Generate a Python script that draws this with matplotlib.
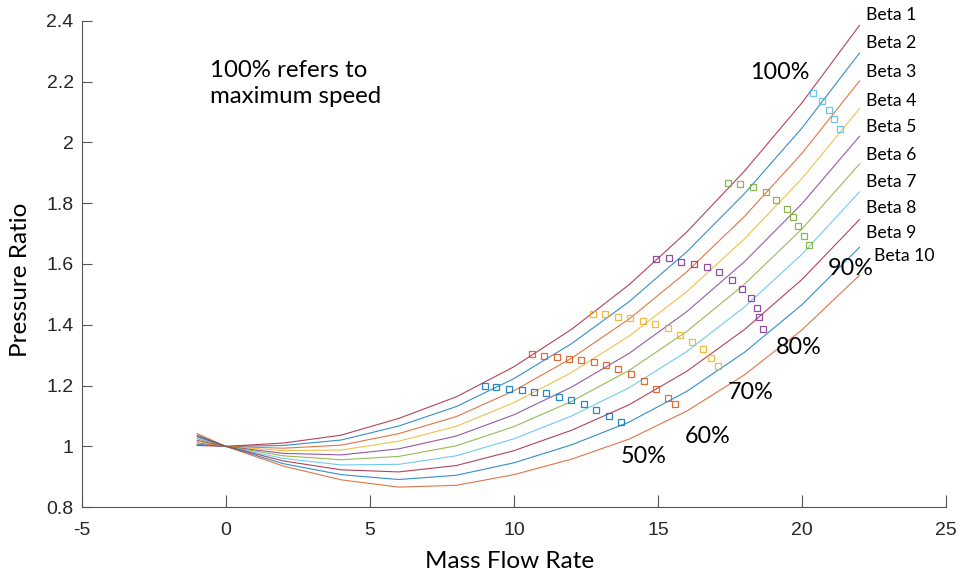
import matplotlib.pyplot as plt
import numpy as np

plt.rcParams['axes.unicode_minus'] = False

# mass flow points where the beta lines were sampled
flow = [-1, 0, 2, 4, 6, 8, 10, 12, 14, 16, 18, 20, 22]

beta1 = [1.003, 1.0, 1.011, 1.037, 1.092, 1.163, 1.262, 1.385, 1.532, 1.705, 1.905, 2.130, 2.385]
beta2 = [1.007, 1.0, 1.003, 1.021, 1.067, 1.131, 1.223, 1.338, 1.476, 1.640, 1.831, 2.047, 2.294]
beta3 = [1.012, 1.0, 0.994, 1.004, 1.042, 1.098, 1.183, 1.290, 1.419, 1.574, 1.756, 1.964, 2.202]
beta4 = [1.016, 1.0, 0.986, 0.988, 1.017, 1.066, 1.144, 1.243, 1.363, 1.509, 1.682, 1.881, 2.111]
beta5 = [1.020, 1.0, 0.977, 0.972, 0.992, 1.034, 1.104, 1.195, 1.306, 1.443, 1.607, 1.798, 2.020]
beta6 = [1.025, 1.0, 0.969, 0.956, 0.967, 1.002, 1.065, 1.148, 1.250, 1.378, 1.533, 1.715, 1.929]
beta7 = [1.029, 1.0, 0.960, 0.939, 0.941, 0.969, 1.025, 1.100, 1.193, 1.312, 1.458, 1.632, 1.837]
beta8 = [1.033, 1.0, 0.952, 0.923, 0.916, 0.937, 0.986, 1.053, 1.137, 1.247, 1.384, 1.549, 1.746]
beta9 = [1.037, 1.0, 0.943, 0.907, 0.891, 0.905, 0.946, 1.005, 1.080, 1.181, 1.309, 1.466, 1.655]
beta10 = [1.042, 1.0, 0.935, 0.890, 0.866, 0.872, 0.907, 0.958, 1.024, 1.116, 1.235, 1.383, 1.563]
betas = [beta1, beta2, beta3, beta4, beta5, beta6, beta7, beta8, beta9, beta10]
beta_names = ['Beta %d' % i for i in range(1, 11)]

# speed line points (squares)
s50_x = [8.99, 9.36, 9.83, 10.27, 10.69, 11.13, 11.56, 11.99, 12.43, 12.86, 13.29, 13.72]
s50_y = [1.199, 1.195, 1.190, 1.185, 1.180, 1.174, 1.164, 1.154, 1.138, 1.119, 1.099, 1.079]
s60_x = [10.61, 11.05, 11.48, 11.91, 12.34, 12.78, 13.21, 13.63, 14.07, 14.50, 14.94, 15.36, 15.61]
s60_y = [1.305, 1.297, 1.294, 1.289, 1.283, 1.276, 1.267, 1.253, 1.237, 1.215, 1.188, 1.160, 1.138]
s70_x = [12.73, 13.17, 13.60, 14.04, 14.47, 14.91, 15.34, 15.76, 16.19, 16.55, 16.84, 17.09]
s70_y = [1.437, 1.434, 1.426, 1.421, 1.413, 1.403, 1.388, 1.368, 1.344, 1.319, 1.290, 1.264]
s80_x = [14.95, 15.37, 15.81, 16.25, 16.69, 17.12, 17.56, 17.92, 18.22, 18.43, 18.50, 18.64]
s80_y = [1.617, 1.619, 1.608, 1.601, 1.590, 1.572, 1.547, 1.518, 1.487, 1.454, 1.424, 1.386]
s90_x = [17.43, 17.86, 18.29, 18.74, 19.10, 19.47, 19.68, 19.86, 20.08, 20.26]
s90_y = [1.867, 1.864, 1.854, 1.836, 1.810, 1.781, 1.754, 1.724, 1.692, 1.664]
s100_x = [20.37, 20.71, 20.94, 21.13, 21.33]
s100_y = [2.164, 2.135, 2.108, 2.076, 2.044]

mat = [(0, 0.447, 0.741), (0.85, 0.325, 0.098), (0.929, 0.694, 0.125),
       (0.494, 0.184, 0.556), (0.466, 0.674, 0.188), (0.301, 0.745, 0.933),
       (0.635, 0.078, 0.184)]

fig = plt.figure(figsize=(9.61, 5.77), dpi=100)
ax = fig.add_axes([0.0853, 0.121, 0.899, 0.843])

for i, b in enumerate(betas):
    ax.plot(flow, b, color=mat[(i + 6) % 7], lw=0.8, alpha=0.8)

speeds = [(s50_x, s50_y), (s60_x, s60_y), (s70_x, s70_y), (s80_x, s80_y), (s90_x, s90_y), (s100_x, s100_y)]
for i, (sx, sy) in enumerate(speeds):
    ax.plot(sx, sy, 's', mfc='none', mec=mat[i], ms=4.5, mew=0.9, alpha=0.85)

ax.set_xlim(-5, 25)
ax.set_ylim(0.8, 2.4)
ax.set_xticks(np.arange(-5, 26, 5))
ax.set_yticks([0.8, 1.0, 1.2, 1.4, 1.6, 1.8, 2.0, 2.2, 2.4])
ax.set_yticklabels(['0.8', '1', '1.2', '1.4', '1.6', '1.8', '2', '2.2', '2.4'])
ax.spines['top'].set_visible(False)
ax.spines['right'].set_visible(False)
for s in ['left', 'bottom']:
    ax.spines[s].set_color('#555555')
    ax.spines[s].set_linewidth(0.8)
ax.tick_params(direction='in', colors='#555555', labelcolor='#262626',
               labelsize=14, width=0.8)
ax.tick_params(axis='x', length=9, pad=11)
ax.tick_params(axis='y', length=7, pad=6)
for lab in ax.get_xticklabels() + ax.get_yticklabels():
    lab.set_family('Liberation Sans')

ax.set_xlabel('Mass Flow Rate', fontsize=17.5, family='Lato')
ax.set_ylabel('Pressure Ratio', fontsize=17.5, family='Lato')
ax.xaxis.set_label_coords(0.495, -0.09)
ax.yaxis.set_label_coords(-0.059, 0.467)

ax.text(-0.56, 2.27, '100% refers to\nmaximum speed', fontsize=17.3, family='Lato',
        va='top', ha='left', linespacing=1.3)

beta_y = [2.42, 2.328, 2.232, 2.136, 2.051, 1.959, 1.870, 1.784, 1.702, 1.626]
for i, name in enumerate(beta_names):
    bx = 22.5 if i == 9 else 22.22
    ax.text(bx, beta_y[i], name, fontsize=12.7, family='Lato', va='center',
            ha='left', clip_on=False)

pct_labels = ['100%', '90%', '80%', '70%', '60%', '50%']
pct_x = [18.19, 20.9, 19.1, 17.43, 15.94, 13.72]
pct_y = [2.229, 1.586, 1.326, 1.178, 1.033, 0.967]
for t, px, py in zip(pct_labels, pct_x, pct_y):
    ax.text(px, py, t, fontsize=16.8, family='Lato', va='center', ha='left')

fig.savefig('out.png', dpi=100)
